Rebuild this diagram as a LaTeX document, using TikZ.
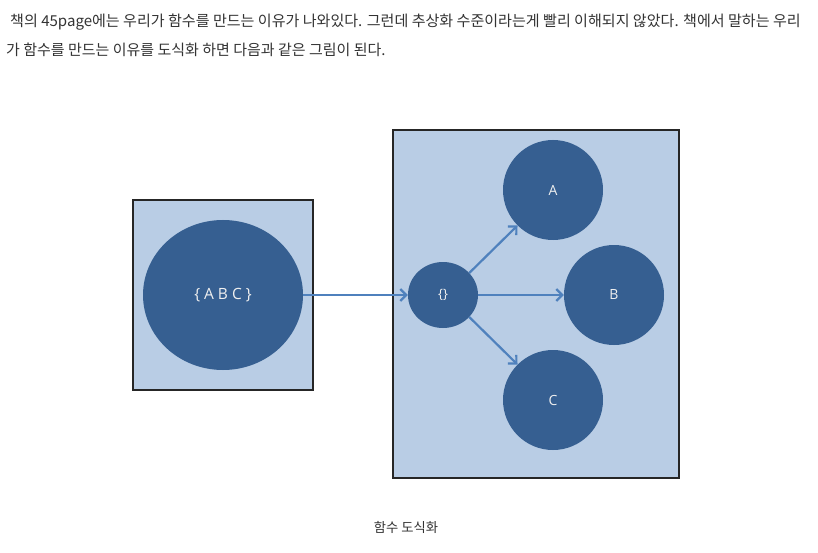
\documentclass[tikz,border=0pt]{standalone}
\usepackage{fontspec}
\setmainfont{Open Sans}
\newfontfamily\kr{Noto Sans CJK KR}
\usetikzlibrary{arrows.meta,shapes.geometric}
\definecolor{boxfill}{HTML}{B9CDE5}
\definecolor{circfill}{HTML}{365F91}
\definecolor{arrowc}{HTML}{4F81BD}
\definecolor{txt}{HTML}{333333}
\tikzset{
  panel/.style={draw=black!85, line width=1.2pt, fill=boxfill},
  blob/.style={ellipse, fill=circfill, text=white!94!black, inner sep=0pt, font=\fontsize{14}{16}\selectfont},
  flow/.style={draw=arrowc, line width=2.2pt, -{Straight Barb[length=6pt,width=12pt]}},
  para/.style={anchor=west, text=txt, inner sep=0pt, font=\kr\fontsize{15}{18}\selectfont},
}
\begin{document}
\begin{tikzpicture}[x=1pt,y=-1pt]
\useasboundingbox (0,0) rectangle (818,553);
\fill[white] (0,0) rectangle (818,553);
\node[para, font=\kr\fontsize{15.05}{18}\selectfont] (l1) at (10,22) {책의 45page에는 우리가 함수를 만드는 이유가 나와있다. 그런데 추상화 수준이라는게 빨리 이해되지 않았다. 책에서 말하는 우리};
\node[para] (l2) at (6,50) {가 함수를 만드는 이유를 도식화 하면 다음과 같은 그림이 된다.};
\node[panel, minimum width=180pt, minimum height=190pt, inner sep=0pt] (left) at (223,295) {};
\node[panel, minimum width=286pt, minimum height=348pt, inner sep=0pt] (right) at (536,304) {};
\node[blob, minimum width=160pt, minimum height=150pt, font=\fontsize{15.5}{18}\selectfont] (abc) at (223,295) {\{ A B C \}};
\node[blob, minimum width=70pt, minimum height=66pt, font=\fontsize{13}{15}\selectfont] (set) at (443,295) {\{\}};
\node[blob, minimum width=100pt, minimum height=100pt] (a) at (553,190) {A};
\node[blob, minimum width=100pt, minimum height=100pt] (b) at (614,295) {B};
\node[blob, minimum width=100pt, minimum height=100pt] (c) at (553,400) {C};
\draw[flow] (abc.east) -- (set.west);
\draw[flow] (set.40) -- (a.-135);
\draw[flow] (set.east) -- (b.west);
\draw[flow] (set.-40) -- (c.135);
\node[text=txt, inner sep=0pt, font=\kr\fontsize{13.3}{16}\selectfont] (cap) at (406,527) {함수 도식화};
\end{tikzpicture}
\end{document}
